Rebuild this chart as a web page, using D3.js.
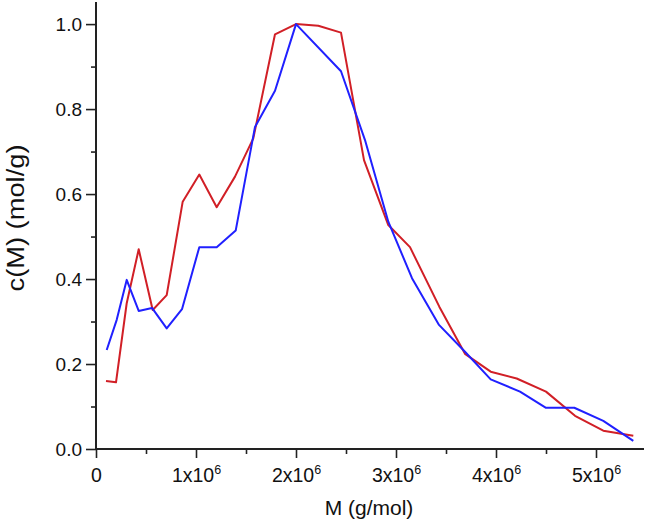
<!DOCTYPE html>
<html>
<head>
<meta charset="utf-8">
<script src="https://cdn.jsdelivr.net/npm/d3@7/dist/d3.min.js"></script>
<style>
  html, body { margin: 0; padding: 0; background: #fff; }
  svg { display: block; font-family: "Liberation Sans", Arial, sans-serif; }
</style>
</head>
<body>
<svg id="chart" width="647" height="522"></svg>
<script>
// ---- data ----
const blueM = [0.107,0.207,0.307,0.427,0.56,0.707,0.86,1.033,1.207,1.397,1.59,1.79,2.0,2.45,2.69,2.923,3.16,3.43,3.69,3.947,4.24,4.5,4.783,5.073,5.373];
const blueC = [0.233,0.304,0.398,0.325,0.332,0.284,0.329,0.475,0.475,0.514,0.758,0.843,1.0,0.889,0.727,0.535,0.402,0.292,0.229,0.164,0.135,0.097,0.097,0.066,0.019];
const redM  = [0.10,0.20,0.307,0.427,0.567,0.707,0.867,1.033,1.207,1.39,1.573,1.79,2.0,2.223,2.45,2.68,2.923,3.14,3.433,3.69,3.947,4.207,4.5,4.79,5.073,5.373];
const redC  = [0.160,0.157,0.343,0.470,0.327,0.362,0.582,0.646,0.569,0.641,0.731,0.976,1.0,0.996,0.98,0.68,0.527,0.475,0.335,0.224,0.182,0.166,0.135,0.078,0.043,0.031];
const xTickValues = [0,1,2,3,4,5];          // in units of 10^6
const xTickLabels = ["0","1x10","2x10","3x10","4x10","5x10"];
const yTickValues = [0.0,0.2,0.4,0.6,0.8,1.0];
const yTickLabels = ["0.0","0.2","0.4","0.6","0.8","1.0"];
const xTitle = "M (g/mol)";
const yTitle = "c(M) (mol/g)";

const svg = d3.select("#chart");
const x = d3.scaleLinear().domain([0, 5.48]).range([96, 644]);
const y = d3.scaleLinear().domain([0, 1.052]).range([449, 2]);
const axisColor = "#222";

// minor ticks
const gxMinor = svg.append("g").attr("transform", "translate(0,449)")
  .call(d3.axisBottom(x).tickValues(d3.range(0.5, 5.48, 1)).tickSize(5).tickFormat(""));
const gyMinor = svg.append("g").attr("transform", "translate(96,0)")
  .call(d3.axisLeft(y).tickValues(d3.range(0.1, 1.0, 0.2)).tickSize(5).tickFormat(""));

// major
const gx = svg.append("g").attr("transform", "translate(0,449)")
  .call(d3.axisBottom(x).tickValues(xTickValues).tickSize(9).tickPadding(5)
    .tickFormat((d, i) => xTickLabels[i]));
const gy = svg.append("g").attr("transform", "translate(96,0)")
  .call(d3.axisLeft(y).tickValues(yTickValues).tickSize(10).tickPadding(4)
    .tickFormat((d, i) => yTickLabels[i]));

[gxMinor, gyMinor, gx, gy].forEach(g => {
  g.select(".domain").attr("stroke", axisColor).attr("stroke-width", 2);
  g.selectAll(".tick line").attr("stroke", axisColor).attr("stroke-width", 1.6);
});
gxMinor.select(".domain").remove();
gyMinor.select(".domain").remove();
gx.select(".domain").attr("d", "M96,0H644");
gy.select(".domain").attr("d", "M0,449V2");

gx.selectAll(".tick text").attr("font-size", 19.5).attr("fill", "#111")
  .attr("font-family", "Liberation Sans, Arial, sans-serif")
  .attr("dy", null).attr("y", 33)
  .each(function(d, i) {
    if (i > 0) {
      d3.select(this).append("tspan").attr("font-size", 12.5).attr("dy", -8).text("6");
    }
  });
gy.selectAll(".tick text").attr("font-size", 19).attr("fill", "#111")
  .attr("font-family", "Liberation Sans, Arial, sans-serif")
  .attr("dy", "0.35em");

// lines
const line = (M, C) => d3.line().x((d, i) => x(M[i])).y((d, i) => y(C[i]))(C);
svg.append("path").attr("d", line(redM, redC))
  .attr("fill", "none").attr("stroke", "#d11f26").attr("stroke-width", 2).attr("stroke-linejoin", "round");
svg.append("path").attr("d", line(blueM, blueC))
  .attr("fill", "none").attr("stroke", "#2020ff").attr("stroke-width", 2).attr("stroke-linejoin", "round");

// titles
svg.append("text").attr("x", 369).attr("y", 515).attr("text-anchor", "middle")
  .attr("font-size", 21).attr("fill", "#111").text(xTitle);
svg.append("text").attr("transform", "translate(24,218) rotate(-90)")
  .attr("text-anchor", "middle").attr("font-size", 23).attr("fill", "#111")
  .attr("textLength", 147).attr("lengthAdjust", "spacingAndGlyphs").text(yTitle);
</script>
</body>
</html>
